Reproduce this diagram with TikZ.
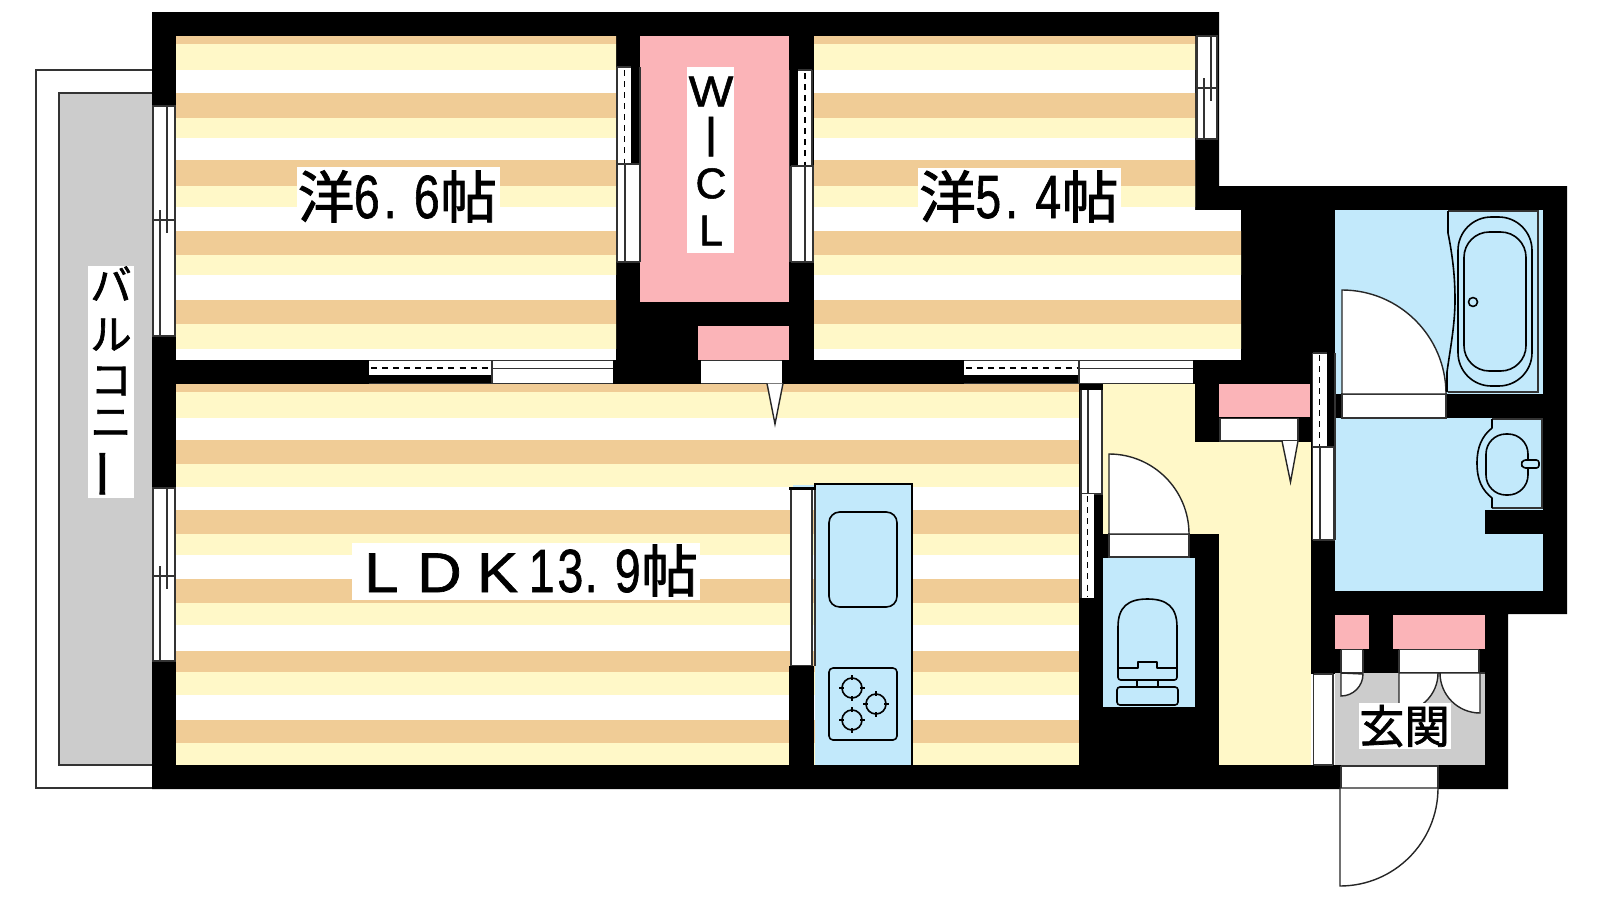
\documentclass[tikz,border=0pt]{standalone}
\usepackage{fontspec}
\setmainfont{Liberation Sans}
\newfontfamily\jp[FakeBold=1.6]{Noto Sans CJK JP}
\newfontfamily\lab[FakeBold=1.2]{Liberation Sans}
\definecolor{cream}{HTML}{FFF8C8}
\definecolor{tan}{HTML}{F0CC96}
\definecolor{pinkc}{HTML}{FBB4B8}
\definecolor{bluec}{HTML}{C2E9FB}
\definecolor{greyc}{HTML}{CCCCCC}
\newcommand{\dg}[1]{\scalebox{.76}[1]{#1}}
\newcommand{\kn}[1]{\hspace{#1pt}}
\newcommand{\ltr}[1]{\scalebox{1.1}[1]{\fontsize{42}{44}\selectfont #1}}
\newcommand{\kj}[1]{{\jp\fontsize{42.5}{44}\selectfont #1}}
\newcommand{\rowfix}[2]{\hbox to 0pt{\hss\smash{#1}\hss}\vskip #2pt}
\newcommand{\upperstripes}{%
  \foreach \a/\b in {36/44,93/118,160/186,231/255,300/324} \fill[tan] (0,\a) rectangle (1600,\b);
  \foreach \a/\b in {44/70,118/138,186/207,255/275,324/349} \fill[cream] (0,\a) rectangle (1600,\b);
}
\newcommand{\vwin}[6]{% x1 x2 ytop ymid ybot : sash window, left wall style
  \fill[white] (#1,#3) rectangle (#2,#5);
  \draw[ln] (#1+1,#3) -- (#1+1,#5) (#2-1,#3) -- (#2-1,#5) (#1,#3) -- (#2,#3) (#1,#5) -- (#2,#5) (#1,#4) -- (#2,#4);
  \draw[ln] (#1+15,#3) -- (#1+15,#4+13) (#1+8,#4-10) -- (#1+8,#5);
}
\tikzset{
  x=.75pt,y=-.75pt,
  ln/.style={draw=black!80,line width=.95pt},
  thick ln/.style={draw=black,line width=1.2pt,line join=round},
  dash ln/.style={draw=black,line width=1.2pt,dash pattern=on 4.5pt off 3.8pt},
  door/.style={fill=white,draw=black!85,line width=1.05pt},
  lbl/.style={inner sep=0pt,anchor=base west,text=black,font=\lab\fontsize{45.75}{50}\selectfont},
  kana/.style={inner sep=0pt,anchor=north,text=black,font=\jp\fontsize{31}{33}\selectfont},
}
\begin{document}
\begin{tikzpicture}
\useasboundingbox (0,0) rectangle (1600,900);
\fill[white] (0,0) rectangle (1600,900);
% balcony
\draw[ln,fill=white] (152,70) -- (36,70) -- (36,788) -- (165,788);
\draw[ln,fill=greyc] (152,93) -- (59,93) -- (59,765) -- (152,765);
% walls
\fill[black] (152,12) -- (1219,12) -- (1219,186) -- (1567,186) -- (1567,614) -- (1508,614) -- (1508,789) -- (152,789) -- cycle;
% bedroom 1
\begin{scope}
\clip (176,36) rectangle (616,360);
\fill[white] (176,36) rectangle (616,360);
\upperstripes
\end{scope}
% bedroom 2
\begin{scope}
\clip (814,36) -- (1195,36) -- (1195,210) -- (1241,210) -- (1241,360) -- (814,360) -- cycle;
\fill[white] (814,36) rectangle (1241,360);
\upperstripes
\end{scope}
% LDK
\begin{scope}
\clip (176,384) rectangle (1079,765);
\fill[white] (176,384) rectangle (1079,765);
\foreach \a/\b in {384/392,440/464,510/534,579/603,651/672,720/743} \fill[tan] (176,\a) rectangle (1079,\b);
\foreach \a/\b in {392/418,464/487,534/555,603/625,672/695,743/765} \fill[cream] (176,\a) rectangle (1079,\b);
\end{scope}
% WIC and closets
\fill[pinkc] (640,36) rectangle (789,302);
\fill[pinkc] (698,326) rectangle (789,360);
\fill[pinkc] (1219,384) rectangle (1310,417);
\fill[pinkc] (1335,615) rectangle (1369,649);
\fill[pinkc] (1393,615) rectangle (1485,649);
% hall
\fill[cream] (1103,384) rectangle (1195,534);
\fill[cream] (1195,442) rectangle (1219,534);
\fill[cream] (1219,442) rectangle (1311,765);
% wet rooms
\fill[bluec] (1335,210) rectangle (1543,591);
\fill[black] (1336,394) rectangle (1543,418);
\fill[black] (1485,510) rectangle (1543,534);
\fill[bluec] (1103,558) rectangle (1195,707);
% entrance
\fill[greyc] (1335,673) rectangle (1485,765);
% left wall windows
\vwin{152}{176}{106}{220}{336}{}
\vwin{152}{176}{488}{576}{661}{}
\vwin{1196}{1218}{36}{88}{139}{}
% WIC left window
\fill[white] (617,67) rectangle (631,164);
\draw[ln] (617,67) -- (631,67) -- (631,67) (617,67) -- (617,262) (640,67) -- (640,262);
\draw[dash ln] (624.5,70) -- (624.5,163);
\fill[white] (617,164) rectangle (640,262);
\draw[ln] (617,164) -- (640,164) (617,262) -- (640,262) (625,164) -- (625,262) (617,164) -- (617,262) (639.5,164) -- (639.5,262);
% WIC right window
\fill[white] (798,70) rectangle (812,166);
\draw[ln] (798,70) -- (812,70) (812,70) -- (812,262) (789.5,70) -- (789.5,262);
\draw[dash ln] (805,73) -- (805,165);
\fill[white] (791,166) rectangle (814,262);
\draw[ln] (791,166) -- (814,166) (791,262) -- (814,262) (805,166) -- (805,262) (791,166) -- (791,262) (813,166) -- (813,262);
% lower horizontal windows
\foreach \xa/\xb/\xc in {369/492/613,964/1079/1193}{
  \fill[white] (\xa,361) rectangle (\xb,375);
  \fill[white] (\xb,361) rectangle (\xc,383);
  \draw[dash ln] (\xa+2,368) -- (\xb,368);
  \draw[ln] (\xa,360.5) -- (\xc,360.5) (\xa,383.5) -- (\xc,383.5) (\xb,361) -- (\xb,383.5) (\xb,368.5) -- (\xc,368.5);
}
% LDK closet door + pointer
\fill[white] (701,361) rectangle (782,383);
\draw[ln] (701,360.5) -- (782,360.5) (701,383.5) -- (782,383.5);
\draw[door] (767,383.5) -- (775,424) -- (783,383.5);
% LDK / hall windows
\fill[black] (1079,385) rectangle (1103,390);
\fill[white] (1080,390) rectangle (1102,494);
\draw[ln] (1081,390) -- (1081,494) (1088,390) -- (1088,494) (1102,390) -- (1102,494) (1081,494) -- (1103,494);
\fill[white] (1081,494) rectangle (1094,598);
\draw[ln] (1081,494) -- (1081,598);
\draw[dash ln] (1087.5,496) -- (1087.5,597);
% toilet door
\fill[white] (1109,534) rectangle (1189,557);
\draw[ln] (1109,534) -- (1109,557) -- (1189,557) -- (1189,534) -- cycle;
\draw[door] (1109,534) -- (1109,454) arc[start angle=-90,end angle=0,radius=80] -- cycle;
% toilet
\draw[thick ln] (1118,668) -- (1118,627) .. controls (1118,607) and (1128,599) .. (1147.5,599) .. controls (1167,599) and (1177,607) .. (1177,627) -- (1177,668);
\draw[thick ln] (1117,668) -- (1138,668) -- (1138,662) -- (1157,662) -- (1157,668) -- (1178,668);
\draw[thick ln,rounded corners=2pt] (1118,668) -- (1118,680) -- (1177,680) -- (1177,668);
\draw[thick ln] (1137,680) -- (1137,687) (1158,680) -- (1158,687);
\draw[thick ln,rounded corners=2.2pt] (1117,687) rectangle (1178,705);
% hall closet door + pointer
\fill[white] (1220,419) rectangle (1298,441);
\draw[ln] (1220,418.5) -- (1298,418.5) -- (1298,441) -- (1220,441) -- cycle;
\draw[door] (1282,441) -- (1290.5,482) -- (1298,441);
% hall right windows
\fill[white] (1313,353) rectangle (1327,447);
\draw[ln] (1312.5,353) -- (1312.5,540) (1313,353) -- (1327,353) (1335,353) -- (1335,540);
\draw[dash ln] (1319.5,355) -- (1319.5,446);
\fill[white] (1312,447) rectangle (1334,540);
\draw[ln] (1312.5,447) -- (1335,447) (1312.5,447) -- (1312.5,540) (1320,447) -- (1320,540) (1333.5,447) -- (1333.5,540) (1312.5,540) -- (1335,540);
% bath door
\fill[white] (1342,394) rectangle (1446,418);
\draw[ln] (1342,394) rectangle (1446,418);
\draw[door] (1342,394) -- (1342,290) arc[start angle=-90,end angle=0,radius=104] -- cycle;
% bathtub
\draw[ln] (1448,392) -- (1538,392) -- (1538,211) -- (1448,211);
\draw[thick ln] (1448,211) -- (1448,233) .. controls (1453,258) and (1455,278) .. (1455,300) .. controls (1455,325) and (1450,350) .. (1447,372) -- (1447,392);
\draw[thick ln,rounded corners=25pt] (1458,217) rectangle (1532,386);
\draw[thick ln,rounded corners=19pt] (1464,232) rectangle (1526,371);
\draw[thick ln] (1473,302) circle[radius=4.5];
% wash basin
\draw[ln] (1492,419) -- (1542,419) -- (1542,508) -- (1492,508);
\draw[thick ln] (1492,419) -- (1492,428) .. controls (1482,436) and (1477,447) .. (1477,463) .. controls (1477,480) and (1482,490) .. (1492,498) -- (1492,508);
\draw[thick ln,rounded corners=15pt] (1486,434) rectangle (1528,495);
\draw[thick ln,fill=bluec,rounded corners=2pt] (1539,460) -- (1523,460) -- (1521,464) -- (1523,468) -- (1539,468) -- cycle;
% kitchen
\fill[white] (790,490) rectangle (813,666);
\draw[ln] (791,490) -- (791,666) (812,490) -- (812,666) (791,666) -- (813,666);
\fill[black] (789,666) rectangle (814,765);
\fill[black] (789,487) rectangle (814,490);
\fill[bluec] (793,484.5) rectangle (815,487);
\fill[bluec] (815,484) rectangle (912,765);
\draw[ln,draw=black] (815,490) -- (815,484) -- (912,484) -- (912,765);
\draw[ln] (815,490) -- (815,666);
\draw[thick ln,rounded corners=8pt] (829,512) rectangle (897,607);
\draw[thick ln,rounded corners=3pt] (829,668) rectangle (897,740);
\foreach \cx/\cy in {852/688,876/704,852/720}{
  \draw[thick ln] (\cx,\cy) circle[radius=10];
  \draw[thick ln] (\cx-13,\cy) -- (\cx-8,\cy) (\cx+8,\cy) -- (\cx+13,\cy) (\cx,\cy-13) -- (\cx,\cy-8) (\cx,\cy+8) -- (\cx,\cy+13);
}
% entrance
\fill[white] (1311,674) rectangle (1335,765);
\draw[ln] (1313.5,674) -- (1313.5,765) (1333,674) -- (1333,765) (1313.5,674) -- (1333,674) (1313.5,765) -- (1333,765);
\fill[white] (1341,650) rectangle (1363,673);
\draw[ln] (1341,649.5) -- (1363,649.5) (1341,650) -- (1341,673) (1363,650) -- (1363,673) (1341,673) -- (1363,673);
\draw[door] (1341,673) -- (1341,696) arc[start angle=90,end angle=0,radius=22] -- cycle;
\fill[white] (1399,650) rectangle (1479,673);
\draw[ln] (1399,649.5) -- (1479,649.5) (1399,650) -- (1399,673) (1479,650) -- (1479,673) (1399,673) -- (1485,673);
\draw[door] (1399,673) -- (1399,712) arc[start angle=90,end angle=0,radius=39] -- cycle;
\draw[door] (1480,673) -- (1480,713) arc[start angle=90,end angle=180,radius=40] -- cycle;
% front door
\fill[white] (1341,766) rectangle (1438,788);
\draw[ln] (1341,766) -- (1438,766) -- (1438,788) (1341,766) -- (1341,788);
\draw[door] (1340,788) -- (1340,886) arc[start angle=90,end angle=0,radius=98] -- cycle;
% labels
\fill[white] (297,167) rectangle (500,222);
\node[lbl] (room1) at (297.5,218) {\kj{洋}\kn{-.4}\dg{6}\kn{3}\dg{.}\kn{13}\dg{6}\kn{.4}\kj{帖}};
\fill[white] (918,168) rectangle (1121,222);
\node[lbl] (room2) at (919,218) {\kj{洋}\kn{-.4}\dg{5}\kn{3}\dg{.}\kn{13}\dg{4}\kn{.4}\kj{帖}};
\fill[white] (352,543) rectangle (700,600);
\node[lbl] (ldk) at (364,592) {\ltr{L}\kn{14}\ltr{D}\kn{11.5}\ltr{K}\kn{8}\dg{1}\kn{2.25}\dg{3}\kn{1}\dg{.}\kn{13}\dg{9}\kn{.4}\kj{帖}};
\fill[white] (687,67) rectangle (734,253);
\node[inner sep=0pt,anchor=north,font=\lab\fontsize{32.25}{34}\selectfont] (wic) at (711,106)
 {\vbox{\offinterlineskip\rowfix{\scalebox{1.1}[1]{W}}{37.5}\rowfix{\scalebox{1}[1.33]{I}}{31.5}\rowfix{C}{35.25}\rowfix{L}{0}}};
\fill[white] (88,266) rectangle (134,498);
\node[kana] (balc) at (111,300)
 {\vbox{\offinterlineskip\rowfix{バ}{37}\rowfix{ル}{34}\rowfix{コ}{31.5}\rowfix{ニ}{36}\rowfix{\rotatebox[origin=c]{90}{\scalebox{1.25}{ー}}}{0}}};
\fill[white] (1359,703) rectangle (1451,749);
\node[inner sep=0pt,font=\jp\fontsize{34}{36}\selectfont] (genkan) at (1404.5,726) {玄関};
\end{tikzpicture}
\end{document}
